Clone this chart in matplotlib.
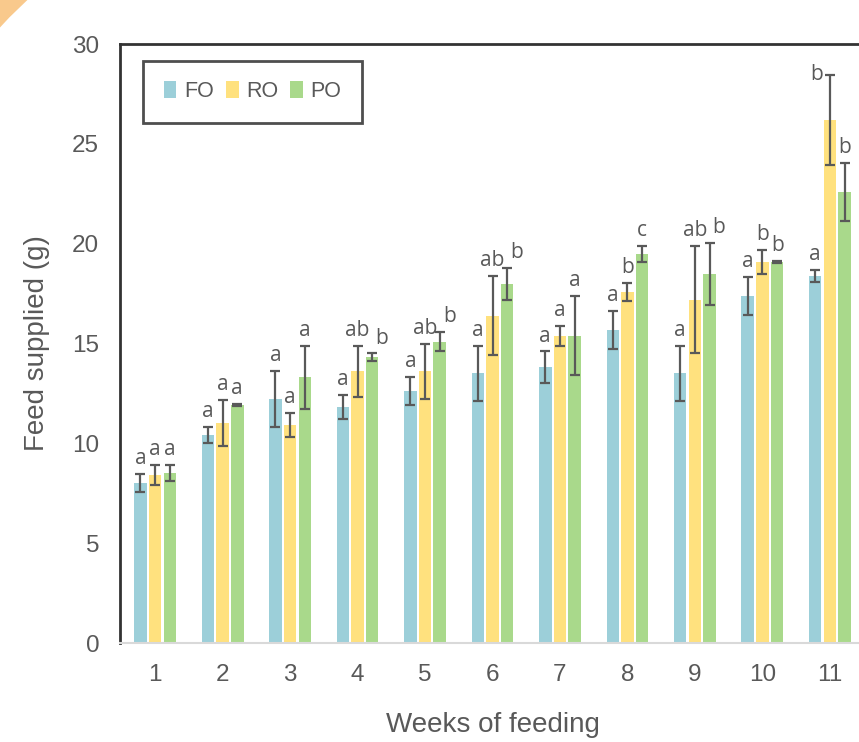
import numpy as np
import matplotlib
matplotlib.use('Agg')
import matplotlib.pyplot as plt
import matplotlib.patches as patches
from matplotlib.transforms import IdentityTransform

# data
weeks = [1, 2, 3, 4, 5, 6, 7, 8, 9, 10, 11]
fo     = [8.0, 10.4, 12.2, 11.8, 12.6, 13.5, 13.8, 15.7, 13.5, 17.4, 18.4]
fo_err = [0.45, 0.4, 1.4, 0.6, 0.7, 1.4, 0.8, 0.95, 1.4, 0.95, 0.3]
ro     = [8.4, 11.0, 10.9, 13.6, 13.6, 16.4, 15.4, 17.6, 17.2, 19.1, 26.2]
ro_err = [0.5, 1.15, 0.6, 1.3, 1.4, 2.0, 0.5, 0.45, 2.7, 0.6, 2.25]
po     = [8.5, 11.9, 13.3, 14.3, 15.1, 18.0, 15.4, 19.5, 18.5, 19.1, 22.6]
po_err = [0.4, 0.05, 1.6, 0.2, 0.5, 0.8, 2.0, 0.4, 1.55, 0.05, 1.45]
fo_lab = ['a', 'a', 'a', 'a', 'a', 'a', 'a', 'a', 'a', 'a', 'a']
ro_lab = ['a', 'a', 'a', 'ab', 'ab', 'ab', 'a', 'b', 'ab', 'b', 'b']
po_lab = ['a', 'a', 'a', 'b', 'b', 'b', 'a', 'c', 'b', 'b', 'b']

series = [('FO', fo, fo_err, fo_lab, '#9ccfd9'),
          ('RO', ro, ro_err, ro_lab, '#ffe17e'),
          ('PO', po, po_err, po_lab, '#a9d98b')]

grey = '#595959'
fig = plt.figure(figsize=(8.59, 7.42), dpi=100)
ax = fig.add_axes([0.1397, 0.1334, 0.8673, 0.8073])

# orange arc in the top-left corner of the original picture
arc = patches.Wedge((300, 442), 435, 110, 165, width=29, color='#f9c98c',
                    transform=IdentityTransform())
fig.patches.append(arc)

x = np.array(weeks, dtype=float)
bw = 0.185
offs = [-0.218, 0.0, 0.218]
ymax = 30
for k, ((name, vals, errs, labs, col), off) in enumerate(zip(series, offs)):
    ax.bar(x + off, vals, width=bw, color=col, label=name, zorder=2)
    ax.errorbar(x + off, vals, yerr=errs, fmt='none', ecolor=grey, elinewidth=1.6,
                capsize=3.6, capthick=1.6, zorder=3)
    for i, (xi, v, e, l) in enumerate(zip(x + off, vals, errs, labs)):
        top = v + e
        if top + 1.6 > ymax:
            # no room above: put the letter beside the cap
            ax.text(xi - 0.1, top, l, ha='right', va='center', fontsize=15,
                    color=grey, family='Open Sans', zorder=4)
            continue
        dx = 0.0
        if k == 2 and len(ro_lab[i]) > 1:
            dx = 0.14
        ax.text(xi + dx, top + 0.25, l, ha='center', va='bottom', fontsize=15,
                color=grey, family='Open Sans', zorder=4)

ax.set_xlim(0.48, 11.52)
ax.set_ylim(0, ymax)
ax.set_yticks(range(0, 31, 5))
ax.set_xticks(weeks)
ax.tick_params(axis='both', length=0, labelsize=17.5, labelcolor=grey)
ax.tick_params(axis='y', pad=15)
ax.tick_params(axis='x', pad=15)
for t in ax.get_xticklabels() + ax.get_yticklabels():
    t.set_family('Liberation Sans')

for s in ['left', 'top', 'right']:
    ax.spines[s].set_color('#333333')
    ax.spines[s].set_linewidth(2)
ax.spines['bottom'].set_color('#d9d9d9')
ax.spines['bottom'].set_linewidth(1.5)

ax.set_ylabel('Feed supplied (g)', fontsize=20, color=grey, family='Liberation Sans', labelpad=16)
ax.set_xlabel('Weeks of feeding', fontsize=20, color=grey, family='Liberation Sans', labelpad=19)

leg = ax.legend(loc='upper left', bbox_to_anchor=(0.031, 0.972), borderaxespad=0, ncol=3,
                fancybox=False, handlelength=0.6, handleheight=0.85, handletextpad=0.35,
                columnspacing=0.55, borderpad=0.95,
                prop={'family': 'Liberation Sans', 'size': 15.5})
leg.get_frame().set_edgecolor('#222222')
leg.get_frame().set_linewidth(2)
for t in leg.get_texts():
    t.set_color(grey)

fig.savefig('out.png', dpi=100)
